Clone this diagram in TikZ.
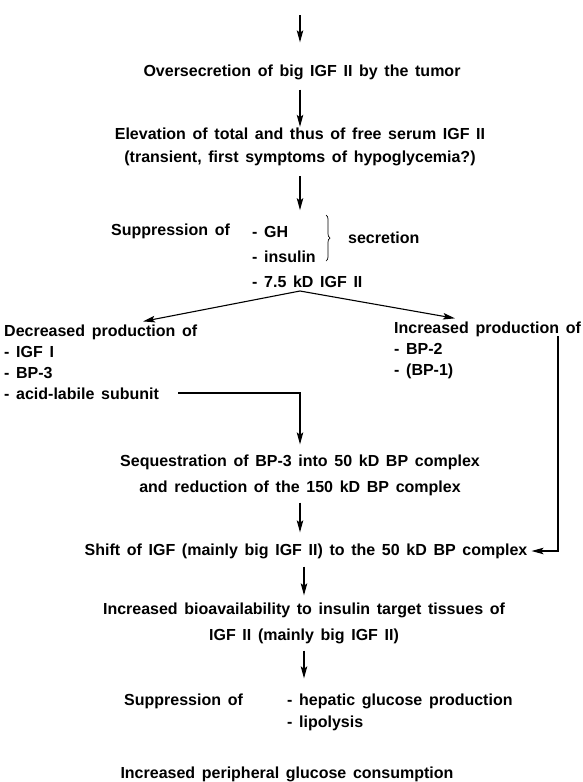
\documentclass[tikz,border=0pt]{standalone}
\usepackage{fontspec}
\setmainfont{Liberation Sans}[WordSpace=1.5]
\usetikzlibrary{arrows.meta,positioning,calc,decorations.pathreplacing}

\begin{document}
\begin{tikzpicture}[x=1pt,y=-1pt,
    txt/.style={inner sep=0pt, align=center, font=\bfseries\fontsize{16}{23}\selectfont},
    lst/.style={txt, align=left},
    flow/.style={-{Stealth[length=12pt,width=6.5pt,inset=2.5pt]}, line width=1.1pt},
    link/.style={line width=0.7pt}]
    \useasboundingbox (0,0) rectangle (583,782);

    % Tumor and serum IGF II
    \coordinate (top) at (300,15);
    \node [txt] (overs) at (302,72) {Oversecretion of big IGF II by the tumor};
    \node [txt] (elev) at (300,147) {Elevation of total and thus of free serum IGF II\\(transient, first symptoms of hypoglycemia?)};

    % Suppression of secretion
    \node [txt, anchor=west] (supp) at (111,231) {Suppression of};
    \node [lst, anchor=west, font=\bfseries\fontsize{16}{25}\selectfont] (horm) at (252,257) {- GH\\- insulin\\- 7.5 kD IGF II};
    \draw [link, decorate, decoration={brace, amplitude=4pt}] (326,215) -- (326,261);
    \node [txt, anchor=west] (secr) at (348,238) {secretion};

    % Two branches
    \coordinate (fork) at (300,291);
    \node [lst, anchor=west, font=\bfseries\fontsize{16}{21}\selectfont] (dec) at (4,362) {Decreased production of\\- IGF I\\- BP-3\\- acid-labile subunit};
    \node [lst, anchor=west, font=\bfseries\fontsize{16}{21}\selectfont] (inc) at (394,350) {Increased production of\\- BP-2\\- (BP-1)};
    \coordinate (acid) at (178,393);
    \coordinate (rtop) at (558,336);

    % Binding proteins
    \node [txt, font=\bfseries\fontsize{16}{26}\selectfont] (seq) at (300,475) {Sequestration of BP-3 into 50 kD BP complex\\and reduction of the 150 kD BP complex};
    \node [txt] (shift) at (306,551) {Shift of IGF (mainly big IGF II) to the 50 kD BP complex};

    % Effects
    \node [txt, font=\bfseries\fontsize{16}{26}\selectfont] (bio) at (304,623) {Increased bioavailability to insulin target tissues of\\IGF II (mainly big IGF II)};
    \node [txt, anchor=west] (supp2) at (124,701) {Suppression of};
    \node [lst, anchor=west, font=\bfseries\fontsize{16}{22}\selectfont] (effects) at (287,712) {- hepatic glucose production\\- lipolysis};
    \node [txt] (cons) at (287,774) {Increased peripheral glucose consumption};

    % Arrows
    \draw [flow, shorten >=22pt] (top) -- (top |- overs.north);
    \draw [flow, shorten <=10pt, shorten >=1pt] (elev.north |- overs.south) -- (elev.north);
    \draw [flow, shorten <=10pt, shorten >=16pt] (elev.south) -- (elev.south |- horm.north);
    \draw [flow] (fork) -- ([xshift=139pt,yshift=3pt]dec.north west);
    \draw [flow] (fork) -- ([xshift=61pt,yshift=3pt]inc.north west);
    \draw [flow, shorten >=10pt] (acid) -| (seq.north);
    \draw [flow, shorten >=4pt] (rtop) |- (shift.east);
    \draw [flow, shorten <=7pt, shorten >=11pt] (seq.south) -- (seq.south |- shift.north);
    \draw [flow, shorten <=8pt, shorten >=7pt] (bio.north |- shift.south) -- (bio.north);
    \draw [flow, shorten <=7pt, shorten >=15pt] (bio.south) -- (bio.south |- effects.north);
\end{tikzpicture}
\end{document}
